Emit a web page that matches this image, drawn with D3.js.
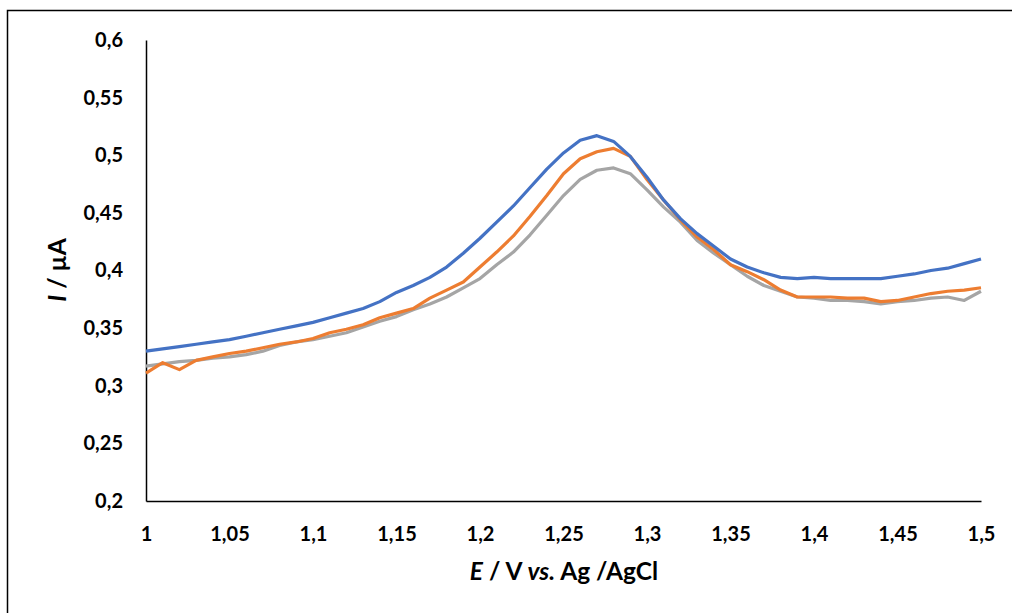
<!DOCTYPE html>
<meta charset="utf-8">
<title>Voltammogram</title>
<script src="https://d3js.org/d3.v7.min.js"></script>
<style>
  body { margin: 0; background: #fff; }
  .tick text { font-family: Lato, "Open Sans", sans-serif; font-weight: 700; font-size: 20px; fill: #000; }
  .title { font-family: Lato, "Open Sans", sans-serif; font-weight: 700; font-size: 24.5px; fill: #000; }
</style>
<body>
<script>

// potential (V vs Ag/AgCl), every 0.01 V
var potential = d3.range(51).map(function(i) { return +(1 + i * 0.01).toFixed(2); });

var seriesBlue = [0.330,0.332,0.334,0.336,0.338,0.340,0.343,0.346,0.349,0.352,
  0.355,0.359,0.363,0.367,0.373,0.381,0.387,0.394,0.403,0.415,
  0.428,0.442,0.456,0.472,0.488,0.502,0.513,0.517,0.512,0.499,
  0.481,0.461,0.445,0.432,0.421,0.410,0.403,0.398,0.394,0.393,
  0.394,0.393,0.393,0.393,0.393,0.395,0.397,0.400,0.402,0.406,0.410];

var seriesOrange = [0.311,0.320,0.314,0.322,0.325,0.328,0.330,0.333,0.336,0.338,
  0.341,0.346,0.349,0.353,0.359,0.363,0.367,0.376,0.383,0.390,
  0.403,0.416,0.430,0.447,0.465,0.484,0.497,0.503,0.506,0.499,
  0.479,0.461,0.444,0.429,0.418,0.405,0.399,0.392,0.383,0.377,
  0.377,0.377,0.376,0.376,0.373,0.374,0.377,0.380,0.382,0.383,0.385];

var seriesGray = [0.317,0.319,0.321,0.322,0.324,0.325,0.327,0.330,0.335,0.338,
  0.340,0.343,0.346,0.351,0.356,0.360,0.366,0.371,0.377,0.385,
  0.393,0.405,0.416,0.431,0.448,0.465,0.479,0.487,0.489,0.484,
  0.470,0.455,0.442,0.426,0.415,0.405,0.395,0.387,0.382,0.377,
  0.376,0.374,0.374,0.373,0.371,0.373,0.374,0.376,0.377,0.374,0.382];

var series = [
  { values: seriesGray,   color: "#a5a5a5" },
  { values: seriesOrange, color: "#ed7d31" },
  { values: seriesBlue,   color: "#4472c4" }
];

var xTicks = [1, 1.05, 1.1, 1.15, 1.2, 1.25, 1.3, 1.35, 1.4, 1.45, 1.5];
var yTicks = [0.2, 0.25, 0.3, 0.35, 0.4, 0.45, 0.5, 0.55, 0.6];

var width = 1012, height = 613;
var margin = {top: 40, right: 31, bottom: 112, left: 146};

var comma = function(v) { return String(+v.toFixed(2)).replace(".", ","); };

var svg = d3.select("body").append("svg")
    .attr("width", width)
    .attr("height", height);

// chart frame
svg.append("rect")
    .attr("x", 7.5).attr("y", 10.5)
    .attr("width", 1100).attr("height", 700)
    .attr("fill", "none")
    .attr("stroke", "#000")
    .attr("stroke-width", 1.5);

var x = d3.scaleLinear()
    .domain([1, 1.5])
    .range([margin.left, width - margin.right]);

var y = d3.scaleLinear()
    .domain([0.2, 0.6])
    .range([height - margin.bottom, margin.top]);

var xAxis = svg.append("g")
    .attr("transform", "translate(0," + y(0.2) + ")")
    .call(d3.axisBottom(x).tickValues(xTicks).tickFormat(comma).tickSize(0).tickPadding(26));
xAxis.select(".domain").attr("stroke", "#000").attr("stroke-width", 1.5);

var yAxis = svg.append("g")
    .attr("transform", "translate(" + x(1) + ",0)")
    .call(d3.axisLeft(y).tickValues(yTicks).tickFormat(comma).tickSize(0).tickPadding(23));
yAxis.select(".domain").attr("stroke", "#000").attr("stroke-width", 1.5);

var line = d3.line()
    .x(function(d, i) { return x(potential[i]); })
    .y(function(d) { return y(d); });

svg.selectAll(".curve")
    .data(series)
    .enter().append("path")
    .attr("class", "curve")
    .attr("d", function(d) { return line(d.values); })
    .attr("fill", "none")
    .attr("stroke", function(d) { return d.color; })
    .attr("stroke-width", 3.2)
    .attr("stroke-linejoin", "round");

// axis titles
var xt = svg.append("text")
    .attr("class", "title")
    .attr("x", 564).attr("y", 580)
    .attr("text-anchor", "middle");
xt.append("tspan").attr("font-style", "italic").text("E");
xt.append("tspan").text(" / V ");
xt.append("tspan").attr("font-style", "italic").text("vs.");
xt.append("tspan").text(" Ag /AgCl");

var yt = svg.append("text")
    .attr("class", "title")
    .attr("transform", "translate(66,270) rotate(-90)")
    .attr("text-anchor", "middle");
yt.append("tspan").attr("font-style", "italic").text("I");
yt.append("tspan").text(" / µA");

</script>
</body>
